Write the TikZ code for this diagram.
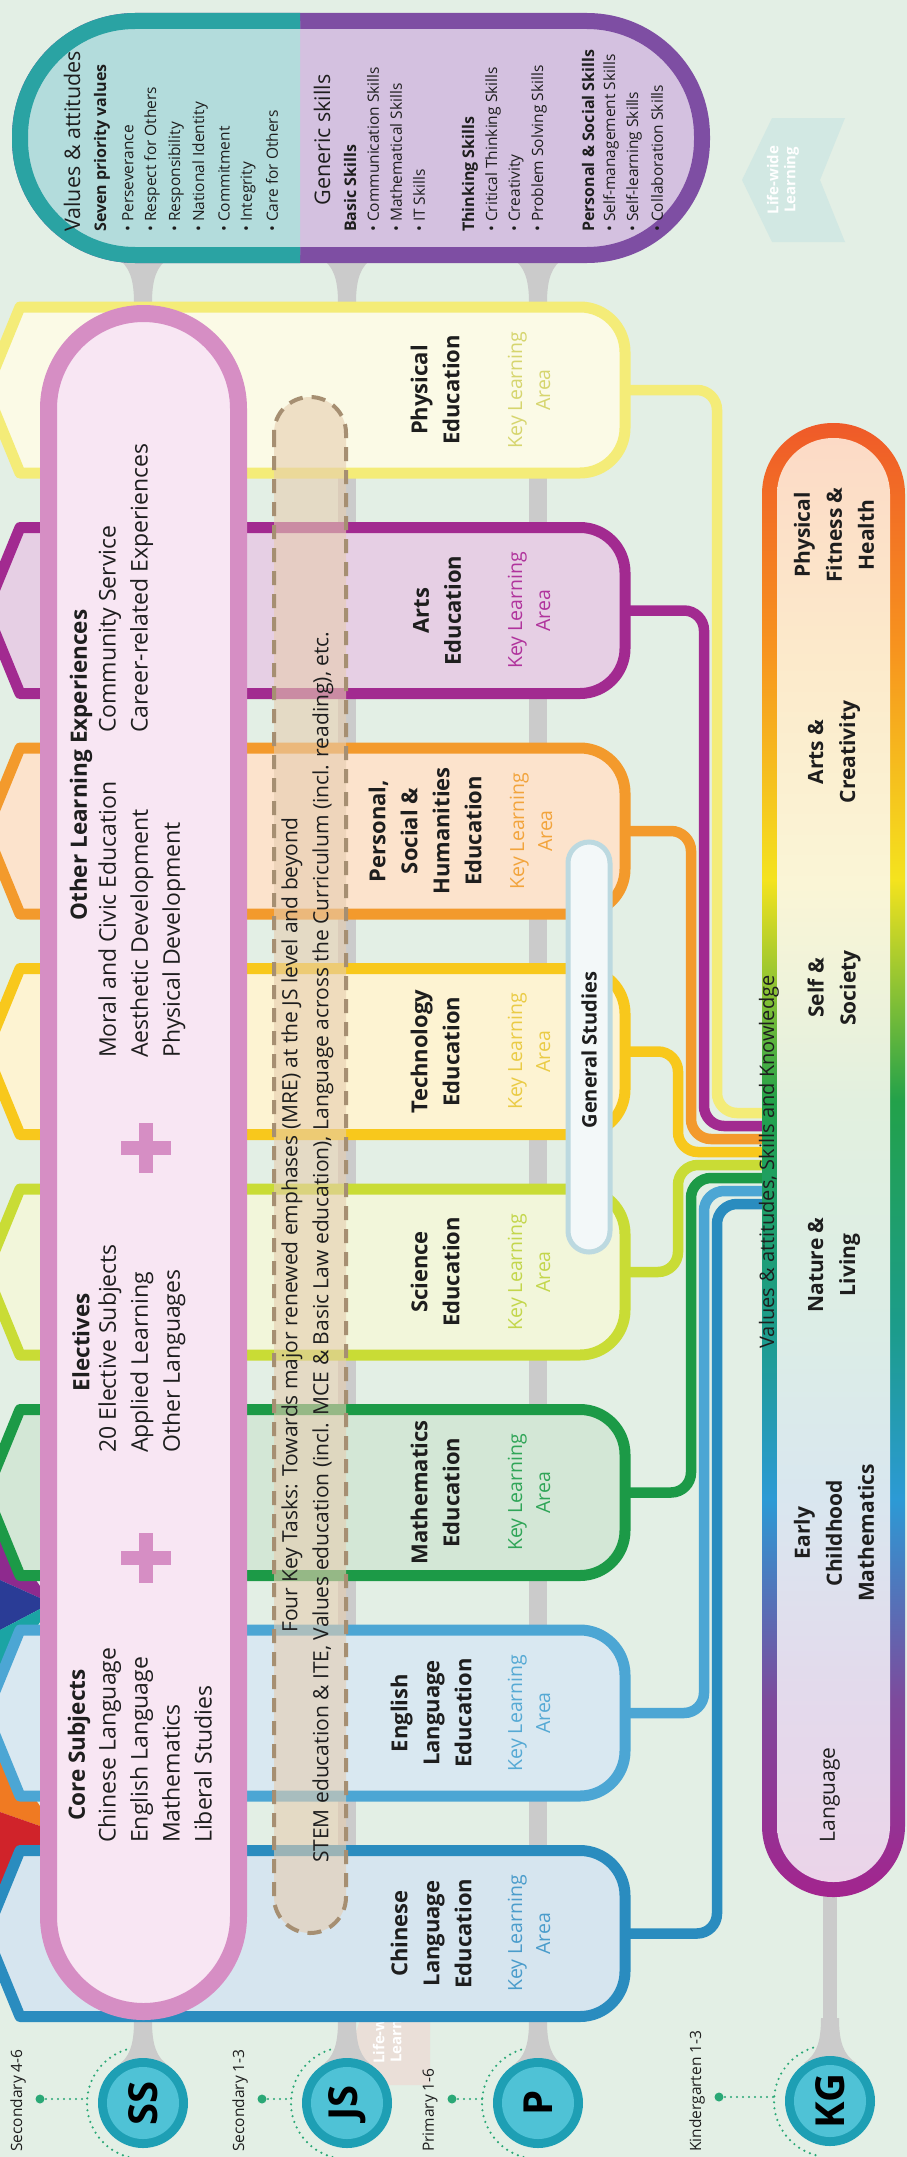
\documentclass[tikz,border=0pt]{standalone}
\usepackage{fontspec}
\setmainfont{Open Sans}
\definecolor{bg}{HTML}{E3EFE5}
\definecolor{ink}{HTML}{1E1E1E}
\definecolor{chiB}{HTML}{2A8CBF}\definecolor{chiF}{HTML}{D6E5EF}\definecolor{chiT}{HTML}{4A9CCB}
\definecolor{engB}{HTML}{4CA6D4}\definecolor{engF}{HTML}{D9E8F1}\definecolor{engT}{HTML}{55A9D4}
\definecolor{matB}{HTML}{1C9A47}\definecolor{matF}{HTML}{D3E7D6}\definecolor{matT}{HTML}{2FA557}
\definecolor{sciB}{HTML}{C9DC35}\definecolor{sciF}{HTML}{F2F6DA}\definecolor{sciT}{HTML}{C3D64B}
\definecolor{tecB}{HTML}{F8C81C}\definecolor{tecF}{HTML}{FDF3D2}\definecolor{tecT}{HTML}{EACB45}
\definecolor{psB}{HTML}{F39A2C}\definecolor{psF}{HTML}{FCE3CC}\definecolor{psT}{HTML}{F2A43C}
\definecolor{artB}{HTML}{A22A90}\definecolor{artF}{HTML}{E6CFE4}\definecolor{artT}{HTML}{B0339C}
\definecolor{peB}{HTML}{F4EC78}\definecolor{peF}{HTML}{FBFAE6}\definecolor{peT}{HTML}{D6D56E}
\definecolor{pinkB}{HTML}{D68EC4}\definecolor{pinkF}{HTML}{F8E6F3}
\definecolor{tanF}{HTML}{E6CDB0}\definecolor{tanB}{HTML}{A68F72}
\definecolor{spine}{HTML}{CBCBCB}
\definecolor{tealB}{HTML}{2AA3A3}\definecolor{tealF}{HTML}{B3DCDC}
\definecolor{purB}{HTML}{7E4EA3}\definecolor{purF}{HTML}{D4C1E0}
\definecolor{circO}{HTML}{1E9FB4}\definecolor{circI}{HTML}{4FC2D6}
\definecolor{dotG}{HTML}{2AA876}
\definecolor{gsB}{HTML}{BCD9E0}\definecolor{gsF}{HTML}{F3F8F9}
\definecolor{faintT}{HTML}{D2E8E3}\definecolor{faintP}{HTML}{EADFD8}
\definecolor{kgR}{HTML}{EF5A29}\definecolor{kgO}{HTML}{F7941E}\definecolor{kgY}{HTML}{F4E31E}
\definecolor{kgG}{HTML}{22A14A}\definecolor{kgT}{HTML}{1C9C8C}\definecolor{kgBl}{HTML}{2C9AD5}
\definecolor{kgP}{HTML}{7D4A9C}\definecolor{kgM}{HTML}{A3248E}
\definecolor{kfR}{HTML}{FCDAC6}\definecolor{kfO}{HTML}{FCEACB}\definecolor{kfY}{HTML}{FAF5D6}
\definecolor{kfG}{HTML}{E2F0DF}\definecolor{kfT}{HTML}{DCEDE6}\definecolor{kfB}{HTML}{D9E7EF}
\definecolor{kfP}{HTML}{E3DAEC}\definecolor{kfM}{HTML}{EBD4E9}
\definecolor{ribP}{HTML}{8E2A8E}\definecolor{ribN}{HTML}{2A3C96}\definecolor{ribT}{HTML}{1BA4A4}
\definecolor{ribO}{HTML}{F07A22}\definecolor{ribR}{HTML}{D0232A}
\pgfdeclareverticalshading{kgborder}{100bp}{color(0bp)=(kgM); color(25bp)=(kgM); color(31.7bp)=(kgP); color(38.5bp)=(kgBl); color(44.2bp)=(kgT); color(52bp)=(kgG); color(59.5bp)=(kgY); color(67.3bp)=(kgO); color(75bp)=(kgR); color(100bp)=(kgR)}
\pgfdeclareverticalshading{kgfill}{100bp}{color(0bp)=(kfM); color(25bp)=(kfM); color(31.7bp)=(kfP); color(38.5bp)=(kfB); color(44.2bp)=(kfT); color(52bp)=(kfG); color(59.5bp)=(kfY); color(67.3bp)=(kfO); color(75bp)=(kfR); color(100bp)=(kfR)}
\tikzset{
  rt/.style={rotate=90, inner sep=0pt},
  klaname/.style={rt, align=center, font=\bfseries\fontsize{22}{32}\selectfont, text=ink},
  klalab/.style={rt, align=center, font=\fontsize{19.5}{28}\selectfont},
  pinkhead/.style={rt, font=\bfseries\fontsize{22.5}{26}\selectfont, text=ink},
  pinklist/.style={rt, anchor=west, align=left, font=\fontsize{23}{32}\selectfont, text=ink},
  task/.style={rt, anchor=west, font=\fontsize{21}{24}\selectfont, text=ink},
  vhead/.style={rt, font=\fontsize{21.5}{24}\selectfont, text=ink},
  vsub/.style={rt, anchor=west, font=\bfseries\fontsize{16}{18}\selectfont, text=ink},
  vitem/.style={rt, anchor=west, font=\fontsize{15.5}{17}\selectfont, text=ink},
  kgtext/.style={rt, align=center, font=\bfseries\fontsize{21}{32}\selectfont, text=ink},
  lvl/.style={rt, anchor=west, font=\fontsize{15.5}{18}\selectfont, text=ink},
  circtext/.style={rt, font=\bfseries\fontsize{40}{40}\selectfont, text=black},
  conn/.style={line width=10.5pt, rounded corners=20pt},
  dotline/.style={dotG, line width=2.4pt, dash pattern=on 0pt off 6pt, line cap=round}
}
% KLA column: center y, border, fill
\newcommand{\klabox}[3]{%
  \draw[line width=11pt, draw=#2, fill=#3, line join=round]
   (-14,{#1}) -- (20,{#1-83}) -- (580,{#1-83}) arc[start angle=-90,end angle=0,radius=45]
   -- (625,{#1+83-45}) arc[start angle=0,end angle=90,radius=45] -- (20,{#1+83}) -- cycle;}
\newcommand{\flareup}[2]{% wide at y, narrowing downward
  \fill[spine] ({#1-9},{#2+45}) .. controls ({#1-9},{#2+20}) and ({#1-14},{#2+8}) .. ({#1-26},#2) -- ({#1+26},#2) .. controls ({#1+14},{#2+8}) and ({#1+9},{#2+20}) .. ({#1+9},{#2+45}) -- cycle;}
\newcommand{\flaredown}[2]{% wide at y, narrowing upward
  \fill[spine] ({#1-9},{#2-45}) .. controls ({#1-9},{#2-20}) and ({#1-14},{#2-8}) .. ({#1-26},#2) -- ({#1+26},#2) .. controls ({#1+14},{#2-8}) and ({#1+9},{#2-20}) .. ({#1+9},{#2-45}) -- cycle;}
\begin{document}
\begin{tikzpicture}[x=1pt,y=1pt]
\begin{scope}[yscale=-1]
\useasboundingbox (0,0) rectangle (907,2157);
\clip (0,0) rectangle (907,2157);
\fill[bg] (0,0) rectangle (907,2157);

% faint background arrows
\fill[faintT] (845,118) -- (772,118) -- (742,180) -- (772,242) -- (845,242) -- (820,180) -- cycle;
\node[rt, align=center, font=\bfseries\fontsize{15}{17}\selectfont, text=white] (lwl1) at (783,180) {Life-wide\\Learning};
\fill[faintP] (430,2085) -- (372,2085) -- (355,2035) -- (372,1985) -- (430,1985) -- cycle;
\node[rt, anchor=west, align=center, font=\bfseries\fontsize{15}{17}\selectfont, text=white] (lwl2) at (389,2064) {Life-wide\\Learning};

% gray spines
\foreach \sx in {143,347,538}{
  \fill[spine] ({\sx-9},265) rectangle ({\sx+9},2062);
  \flareup{\sx}{258}
  \flaredown{\sx}{2066}
}
\fill[spine] (823,1890) rectangle (837,2062);
\flaredown{830}{2063}

% ribbons in the notches
\fill[ribP] (0,1528) -- (40,1586) -- (40,1598) -- (0,1580) -- cycle;
\fill[ribN] (0,1580) -- (40,1598) -- (40,1609) -- (0,1630) -- cycle;
\fill[ribT] (0,1630) -- (40,1609) -- (40,1622) -- (0,1682) -- cycle;
\fill[ribO] (0,1748) -- (40,1806) -- (40,1826) -- (0,1812) -- cycle;
\fill[ribR] (0,1812) -- (40,1826) -- (40,1848) -- (0,1900) -- cycle;

% KLA columns
\klabox{390}{peB}{peF}
\klabox{610.5}{artB}{artF}
\klabox{831}{psB}{psF}
\klabox{1051.5}{tecB}{tecF}
\klabox{1272}{sciB}{sciF}
\klabox{1492.5}{matB}{matF}
\klabox{1713}{engB}{engF}
\klabox{1933.5}{chiB}{chiF}

% connector end points
\coordinate (peR) at (620,390);   \coordinate (peE) at (765,1113);
\coordinate (artR) at (620,610.5); \coordinate (artE) at (765,1126);
\coordinate (psR) at (620,831);   \coordinate (psE) at (765,1139);
\coordinate (tecR) at (620,1051.5); \coordinate (tecE) at (765,1152);
\coordinate (sciR) at (620,1272); \coordinate (sciE) at (765,1165);
\coordinate (matR) at (620,1492.5); \coordinate (matE) at (765,1178);
\coordinate (engR) at (620,1713); \coordinate (engE) at (765,1191);
\coordinate (chiR) at (620,1933.5); \coordinate (chiE) at (765,1204);
\draw[conn, peB] (peR) -- (717,390) |- (peE);
\draw[conn, artB] (artR) -- (704,610.5) |- (artE);
\draw[conn, psB] (psR) -- (691,831) |- (psE);
\draw[conn, tecB] (tecR) -- (678,1051.5) |- (tecE);
\draw[conn, sciB] (sciR) -- (678,1272) |- (sciE);
\draw[conn, matB] (matR) -- (691,1492.5) |- (matE);
\draw[conn, engB] (engR) -- (704,1713) |- (engE);
\draw[conn, chiB] (chiR) -- (717,1933.5) |- (chiE);

% General Studies
\draw[line width=5pt, draw=gsB, fill=gsF, rounded corners=21pt] (568,842) rectangle (610,1252);
\node[rt, font=\bfseries\fontsize{20}{24}\selectfont, text=ink] (gs) at (589,1050) {General Studies};

% KLA texts
\node[klaname] (peN) at (435,390) {Physical\\Education};
\node[klalab, text=peT] (peK) at (529,390) {Key Learning\\Area};
\node[klaname] (artN) at (437,610.5) {Arts\\Education};
\node[klalab, text=artT] (artK) at (529,610.5) {Key Learning\\Area};
\node[klaname] (psN) at (425,831) {Personal,\\Social \&\\Humanities\\Education};
\node[klalab, text=psT] (psK) at (531,831) {Key Learning\\Area};
\node[klaname] (tecN) at (435,1051.5) {Technology\\Education};
\node[klalab, text=tecT] (tecK) at (529,1051.5) {Key Learning\\Area};
\node[klaname] (sciN) at (435,1272) {Science\\Education};
\node[klalab, text=sciT] (sciK) at (529,1272) {Key Learning\\Area};
\node[klaname] (matN) at (435,1492.5) {Mathematics\\Education};
\node[klalab, text=matT] (matK) at (529,1492.5) {Key Learning\\Area};
\node[klaname] (engN) at (431,1713) {English\\Language\\Education};
\node[klalab, text=engT] (engK) at (529,1713) {Key Learning\\Area};
\node[klaname] (chiN) at (431,1933.5) {Chinese\\Language\\Education};
\node[klalab, text=chiT] (chiK) at (529,1933.5) {Key Learning\\Area};

% pink capsule
\draw[line width=17pt, draw=pinkB, fill=pinkF, rounded corners=95pt] (48.5,313.5) rectangle (238.5,2011.5);
\node[pinkhead] (coreH) at (79,1745) {Core Subjects};
\node[pinklist] (coreL) at (155,1843) {Chinese Language\\English Language\\Mathematics\\Liberal Studies};
\fill[pinkB] (121,1551) rectangle (171,1565); \fill[pinkB] (139,1533) rectangle (153,1583);
\node[pinkhead] (elH) at (81,1342) {Electives};
\node[pinklist] (elL) at (142,1453) {20 Elective Subjects\\Applied Learning\\Other Languages};
\fill[pinkB] (121,1141) rectangle (171,1155); \fill[pinkB] (139,1123) rectangle (153,1173);
\node[pinkhead] (oleH) at (81,765) {Other Learning Experiences};
\node[pinklist] (oleL1) at (142,1058) {Moral and Civic Education\\Aesthetic Development\\Physical Development};
\node[pinklist] (oleL2) at (126,733) {Community Service\\Career-related Experiences};

% dashed capsule: four key tasks
\draw[line width=4pt, draw=tanB, fill=tanF, fill opacity=0.6, dash pattern=on 14pt off 9pt, rounded corners=36pt] (274,397) rectangle (346,1933);
\node[task] (fkt1) at (292,1633) {Four Key Tasks: Towards major renewed emphases (MRE) at the JS level and beyond};
\node[task] (fkt2) at (323,1863) {STEM education \& ITE, Values education (incl. MCE \& Basic Law education), Language across the Curriculum (incl. reading), etc.};

% values & generic skills capsule
\draw[line width=16pt, draw=purB, fill=purF, rounded corners=115pt] (20,21) rectangle (702,255);
\begin{scope}
  \clip (0,0) rectangle (300,300);
  \draw[line width=16pt, draw=tealB, fill=tealF, rounded corners=115pt] (20,21) rectangle (702,255);
\end{scope}
\node[vhead, anchor=west] (vh) at (72,232) {Values \& attitudes};
\node[vsub] (vs) at (102,232) {Seven priority values};
\node[vitem] (v1) at (128,232) {• Perseverance};
\node[vitem] (v2) at (152,232) {• Respect for Others};
\node[vitem] (v3) at (176,232) {• Responsibility};
\node[vitem] (v4) at (200,232) {• National Identity};
\node[vitem] (v5) at (224,232) {• Commitment};
\node[vitem] (v6) at (248,232) {• Integrity};
\node[vitem] (v7) at (272,232) {• Care for Others};
\node[vhead] (gh) at (322,140) {Generic skills};
\node[vsub] (g1) at (350,232) {Basic Skills};
\node[vitem] (g2) at (373,232) {• Communication Skills};
\node[vitem] (g3) at (396,232) {• Mathematical Skills};
\node[vitem] (g4) at (419,232) {• IT Skills};
\node[vsub] (g5) at (470,232) {Thinking Skills};
\node[vitem] (g6) at (493,232) {• Critical Thinking Skills};
\node[vitem] (g7) at (516,232) {• Creativity};
\node[vitem] (g8) at (539,232) {• Problem Solving Skills};
\node[vsub] (g9) at (588,232) {Personal \& Social Skills};
\node[vitem] (g10) at (611,232) {• Self-management Skills};
\node[vitem] (g11) at (634,232) {• Self-learning Skills};
\node[vitem] (g12) at (657,232) {• Collaboration Skills};

% KG capsule
\shade[shading=kgborder, rounded corners=71pt] (762,423) rectangle (905,1897);
\shade[shading=kgfill, rounded corners=56pt] (777,438) rectangle (890,1882);
\node[kgtext] (kg1) at (834,535) {Physical\\Fitness \&\\Health};
\node[kgtext] (kg2) at (834,752) {Arts \&\\Creativity};
\node[kgtext] (kg3) at (834,988) {Self \&\\Society};
\node[kgtext] (kg4) at (834,1265) {Nature \&\\Living};
\node[kgtext] (kg5) at (834,1533) {Early\\Childhood\\Mathematics};
\node[rt, font=\fontsize{21}{24}\selectfont, text=ink] (kg6) at (830,1795) {Language};
\node[rt, font=\fontsize{20}{24}\selectfont, text=ink] (vsk) at (769,1162) {Values \& attitudes, Skills and Knowledge};

% level circles
\foreach \cx/\cy/\nm/\tx/\lx/\lab in {143/2103/ss/SS/18/Secondary 4-6, 347/2103/js/JS/240/Secondary 1-3, 538/2103/p/P/430/Primary 1-6, 830/2101/kg/KG/697/Kindergarten 1-3}{
  \fill[circO] (\cx,\cy) circle (45);
  \fill[circI] (\cx,\cy) circle (36);
  \node[circtext] (c\nm) at (\cx,\cy) {\tx};
  \draw[dotline] (\cx,\cy) ++(105:56) arc[start angle=105,end angle=255,radius=56];
  \fill[dotG] ({\lx+22},{\cy-4}) circle (4.5);
  \draw[dotline] ({\lx+22},{\cy-4}) -- ({\cx-56},{\cy-4});
  \node[lvl] (l\nm) at (\lx,2152) {\lab};
}
\end{scope}
\end{tikzpicture}
\end{document}
